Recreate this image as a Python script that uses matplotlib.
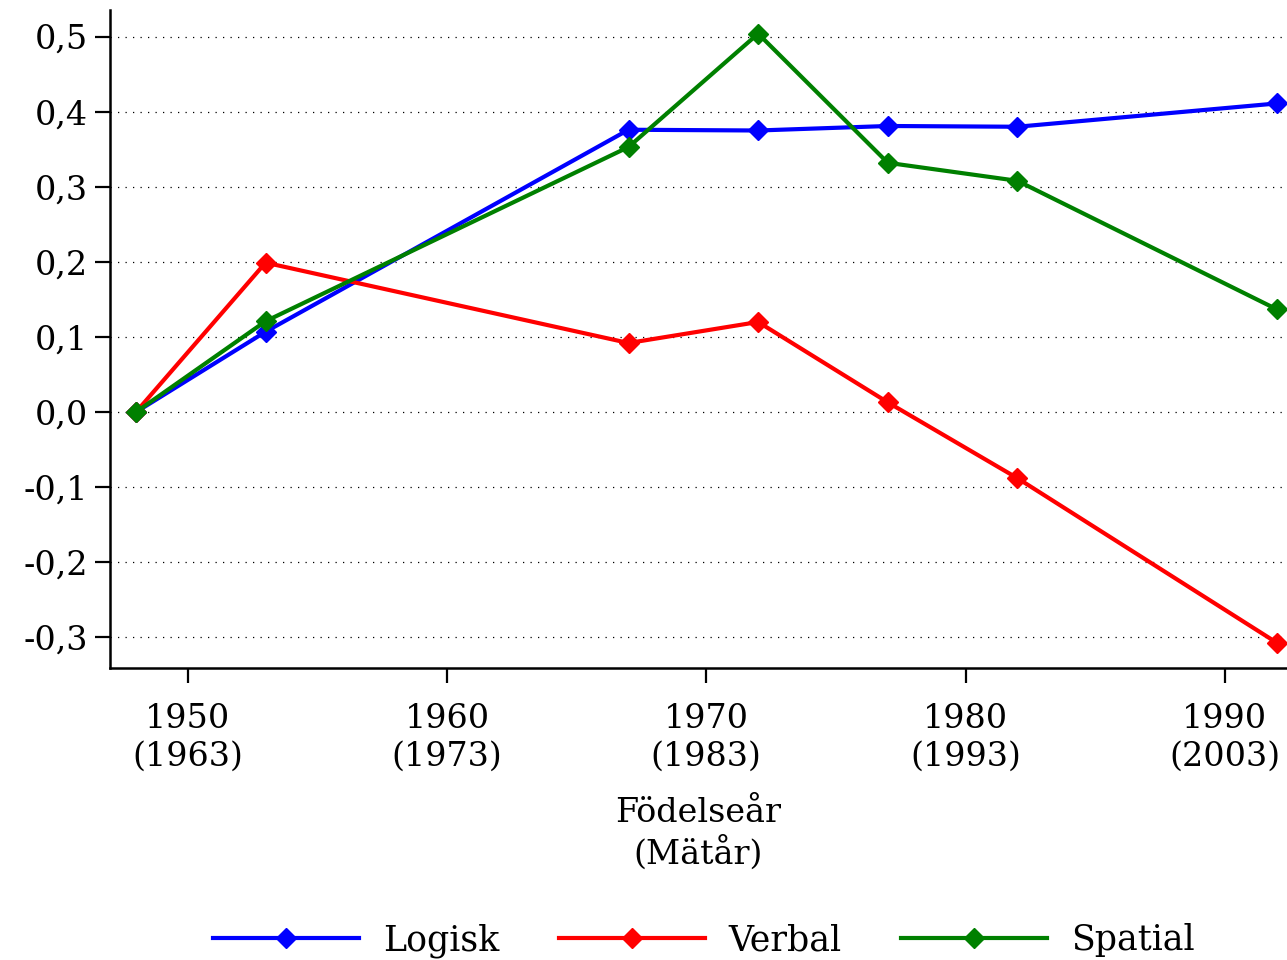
import matplotlib
matplotlib.use("Agg")
import matplotlib.pyplot as plt

# data
years = [1948, 1953, 1967, 1972, 1977, 1982, 1992]
logisk = [0.0, 0.107, 0.376, 0.375, 0.381, 0.380, 0.411]
verbal = [0.0, 0.199, 0.092, 0.120, 0.013, -0.088, -0.307]
spatial = [0.0, 0.121, 0.353, 0.504, 0.332, 0.308, 0.137]

xticks = [1950, 1960, 1970, 1980, 1990]
xticklabels = ["1950\n(1963)", "1960\n(1973)", "1970\n(1983)", "1980\n(1993)", "1990\n(2003)"]
yticks = [-0.3, -0.2, -0.1, 0.0, 0.1, 0.2, 0.3, 0.4, 0.5]
yticklabels = ["-0,3", "-0,2", "-0,1", "0,0", "0,1", "0,2", "0,3", "0,4", "0,5"]

plt.rcParams['font.family'] = ['DejaVu Serif']

fig = plt.figure(figsize=(12.87, 9.6), dpi=100)
ax = fig.add_axes([0.0855, 0.304, 0.9145, 0.686])

ax.plot(years, logisk, color='#0000ff', lw=3, marker='D', ms=10, label='Logisk', clip_on=False)
ax.plot(years, verbal, color='#ff0000', lw=3, marker='D', ms=10, label='Verbal', clip_on=False)
ax.plot(years, spatial, color='#008000', lw=3, marker='D', ms=10, label='Spatial', clip_on=False)

ax.set_xlim(1947.0, 1992.4)
ax.set_ylim(-0.341, 0.536)
ax.set_xticks(xticks)
ax.set_xticklabels(xticklabels, fontsize=24, linespacing=1.22)
ax.set_yticks(yticks)
ax.set_yticklabels(yticklabels, fontsize=24)
ax.tick_params(axis='both', length=11, width=1.6, direction='out', pad=5)
ax.tick_params(axis='x', pad=14)

for side in ['top', 'right']:
    ax.spines[side].set_visible(False)
for side in ['left', 'bottom']:
    ax.spines[side].set_linewidth(1.8)

ax.yaxis.grid(True, color='black', linestyle=(0, (1, 5)), linewidth=0.9)
ax.set_axisbelow(True)

ax.set_xlabel("Födelseår\n(Mätår)", fontsize=24, linespacing=1.22, labelpad=18)

fig.legend(loc='lower center', bbox_to_anchor=(0.547, -0.03), ncol=3, frameon=False,
           fontsize=25, handlelength=4.2, columnspacing=1.7, handletextpad=0.7)

fig.savefig("out.png", dpi=100)
